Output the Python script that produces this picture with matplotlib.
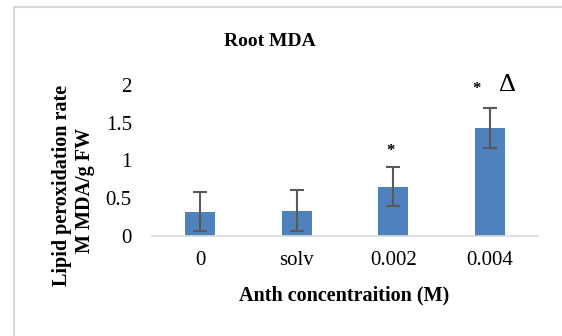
import matplotlib
matplotlib.use('Agg')
import matplotlib.pyplot as plt
from matplotlib.patches import Rectangle

plt.rcParams['font.family'] = ['Liberation Serif', 'DejaVu Serif']

categories = ['0', 'solv', '0.002', '0.004']
mda = [0.32, 0.33, 0.65, 1.43]
err = [0.26, 0.27, 0.26, 0.26]
# significance marks: (bar index, text, x shift, y above error bar, size, weight)
marks = [(2, '*', -0.03, 0.22, 12, 'bold'),
         (3, '*', -0.135, 0.26, 12, 'bold'),
         (3, '\u0394', 0.18, 0.31, 19, 'normal')]

fig = plt.figure(figsize=(5.62, 3.36), dpi=100)
ax = fig.add_axes([152/562, 1 - 235.7/336, 386/562, 150.7/336])

x = list(range(len(categories)))
ax.bar(x, mda, width=0.31, color='#4F81BD', zorder=2)
ax.errorbar(x, mda, yerr=err, fmt='none', ecolor='#595959', elinewidth=1.5,
            capsize=4.7, capthick=1.5, zorder=3)

for i, s, dx, dy, fs, fw in marks:
    ax.text(i + dx, mda[i] + err[i] + dy, s, ha='center', va='center',
            fontsize=fs, fontweight=fw, color='black')

ax.set_xlim(-0.5, 3.5)
ax.set_ylim(0, 2)
ax.set_yticks([0, 0.5, 1, 1.5, 2])
ax.set_yticklabels(['0', '0.5', '1', '1.5', '2'], fontsize=15)
ax.set_xticks(x)
ax.set_xticklabels(categories, fontsize=15)
ax.tick_params(axis='y', length=0, pad=14.5)
ax.tick_params(axis='x', length=0, pad=11)
for side in ['top', 'right', 'left']:
    ax.spines[side].set_visible(False)
ax.spines['bottom'].set_color('#D9D9D9')
ax.spines['bottom'].set_linewidth(1.2)

fig.text(270/562, 1 - 42/336, 'Root MDA', ha='center', va='center',
         fontsize=14, fontweight='bold')
fig.text(344.5/562, 1 - 295/336, 'Anth concentraition (M)', ha='center',
         va='center', fontsize=14.5, fontweight='bold')
fig.text(62/562, 1 - 185/336, 'Lipid peroxidation rate', rotation=90,
         ha='center', va='center', fontsize=14.5, fontweight='bold')
fig.text(85/562, 1 - 190/336, 'M MDA/g FW', rotation=90,
         ha='center', va='center', fontsize=14.5, fontweight='bold')

# chart area border
fig.patches.append(Rectangle((14/562, -0.2), 2, 1.2 - 7/336,
                             transform=fig.transFigure, fill=False,
                             edgecolor='#D9D9D9', linewidth=1.5))

fig.savefig('out.png', dpi=100)
